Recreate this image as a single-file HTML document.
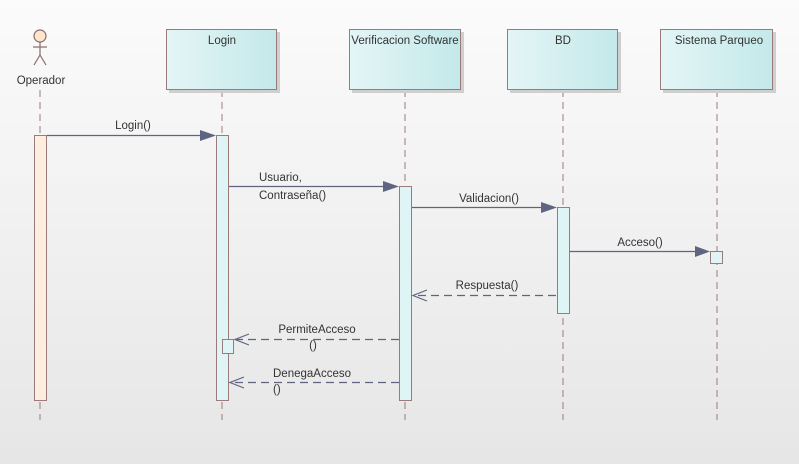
<!DOCTYPE html>
<html><head><meta charset="utf-8">
<style>
html,body{margin:0;padding:0;width:799px;height:464px;overflow:hidden}
svg{display:block;font-family:"Liberation Sans","DejaVu Sans",sans-serif}
</style></head><body>
<svg width="799" height="464" viewBox="0 0 799 464" xmlns="http://www.w3.org/2000/svg">
<defs>
<linearGradient id="bg" x1="0" y1="0" x2="0" y2="1">
<stop offset="0" stop-color="#fbfbfb"/><stop offset="1" stop-color="#e6e6e6"/>
</linearGradient>
<linearGradient id="box" x1="0" y1="0" x2="1" y2="0">
<stop offset="0" stop-color="#e4f5f6"/><stop offset="1" stop-color="#c4e9ea"/>
</linearGradient>
</defs>
<rect width="799" height="464" fill="url(#bg)"/>

<!-- lifelines -->
<g stroke="#9a7a7a" stroke-width="1" stroke-dasharray="7,5" fill="none">
<line x1="40" y1="90" x2="40" y2="420"/>
<line x1="222" y1="90" x2="222" y2="420"/>
<line x1="405" y1="90" x2="405" y2="420"/>
<line x1="563" y1="90" x2="563" y2="420"/>
<line x1="717" y1="90" x2="717" y2="420"/>
</g>

<!-- boxes -->
<g stroke="#9a7a7a" stroke-width="1">
<rect x="169" y="32" width="111" height="61" fill="#cfcfcf" stroke="none"/>
<rect x="166.5" y="29.5" width="110" height="60" fill="url(#box)"/>
<rect x="352" y="32" width="112" height="61" fill="#cfcfcf" stroke="none"/>
<rect x="349.5" y="29.5" width="111" height="60" fill="url(#box)"/>
<rect x="510" y="32" width="111" height="61" fill="#cfcfcf" stroke="none"/>
<rect x="507.5" y="29.5" width="110" height="60" fill="url(#box)"/>
<rect x="663" y="32" width="113" height="61" fill="#cfcfcf" stroke="none"/>
<rect x="660.5" y="29.5" width="112" height="60" fill="url(#box)"/>
</g>
<g font-size="11.5" fill="#333" text-anchor="middle">
<text x="222" y="44">Login</text>
<text x="405" y="44">Verificacion Software</text>
<text x="563" y="44">BD</text>
<text x="719" y="44">Sistema Parqueo</text>
<text x="41" y="84">Operador</text>
</g>

<!-- actor -->
<g stroke="#8a6a6a" stroke-width="1.2" fill="none">
<circle cx="40" cy="36" r="6" fill="#fde6cc"/>
<line x1="40" y1="42" x2="40" y2="55"/>
<line x1="33" y1="47" x2="47" y2="47"/>
<line x1="40" y1="55" x2="34" y2="65"/>
<line x1="40" y1="55" x2="46" y2="65"/>
</g>

<!-- activations -->
<g stroke="#9a7a7a" stroke-width="1">
<rect x="34.5" y="135.5" width="12" height="265" fill="#fdeede"/>
<rect x="216.5" y="135.5" width="12" height="265" fill="#dff4f4"/>
<rect x="399.5" y="186.5" width="12" height="214" fill="#dff4f4"/>
<rect x="557.5" y="207.5" width="12" height="106" fill="#dff4f4"/>
<rect x="710.5" y="251.5" width="12" height="12" fill="#dff4f4"/>
<rect x="222.5" y="339.5" width="11" height="14" fill="#dff4f4"/>
</g>

<!-- messages -->
<g stroke="#5f6580" stroke-width="1.3" fill="none">
<line x1="47" y1="135.5" x2="200" y2="135.5"/>
<line x1="229" y1="186.5" x2="384" y2="186.5"/>
<line x1="412" y1="207.5" x2="542" y2="207.5"/>
<line x1="570" y1="251.5" x2="696" y2="251.5"/>
</g>
<g fill="#5f6580">
<polygon points="200,130 216,135.5 200,141"/>
<polygon points="383,181 399,186.5 383,192"/>
<polygon points="541,202 557,207.5 541,213"/>
<polygon points="695,246 710,251.5 695,257"/>
</g>
<g stroke="#5f6580" stroke-width="1.2" fill="none" stroke-dasharray="8,5">
<line x1="556" y1="295.5" x2="413" y2="295.5"/>
<line x1="399" y1="339.5" x2="235" y2="339.5"/>
<line x1="399" y1="382.5" x2="230" y2="382.5"/>
</g>
<g stroke="#5f6580" stroke-width="1.2" fill="none">
<polyline points="427,290 413,295.5 427,301"/>
<polyline points="249,334 235,339.5 249,345"/>
<polyline points="244,377 230,382.5 244,388"/>
</g>

<g font-size="11.5" fill="#333">
<text x="133" y="129" text-anchor="middle">Login()</text>
<text x="259" y="181">Usuario,</text>
<text x="259" y="199">Contraseña()</text>
<text x="489" y="202" text-anchor="middle">Validacion()</text>
<text x="640" y="246" text-anchor="middle">Acceso()</text>
<text x="487" y="289" text-anchor="middle">Respuesta()</text>
<text x="317" y="333" text-anchor="middle">PermiteAcceso</text>
<text x="313" y="349" text-anchor="middle">()</text>
<text x="273" y="377">DenegaAcceso</text>
<text x="273" y="393">()</text>
</g>
</svg>
</body></html>
